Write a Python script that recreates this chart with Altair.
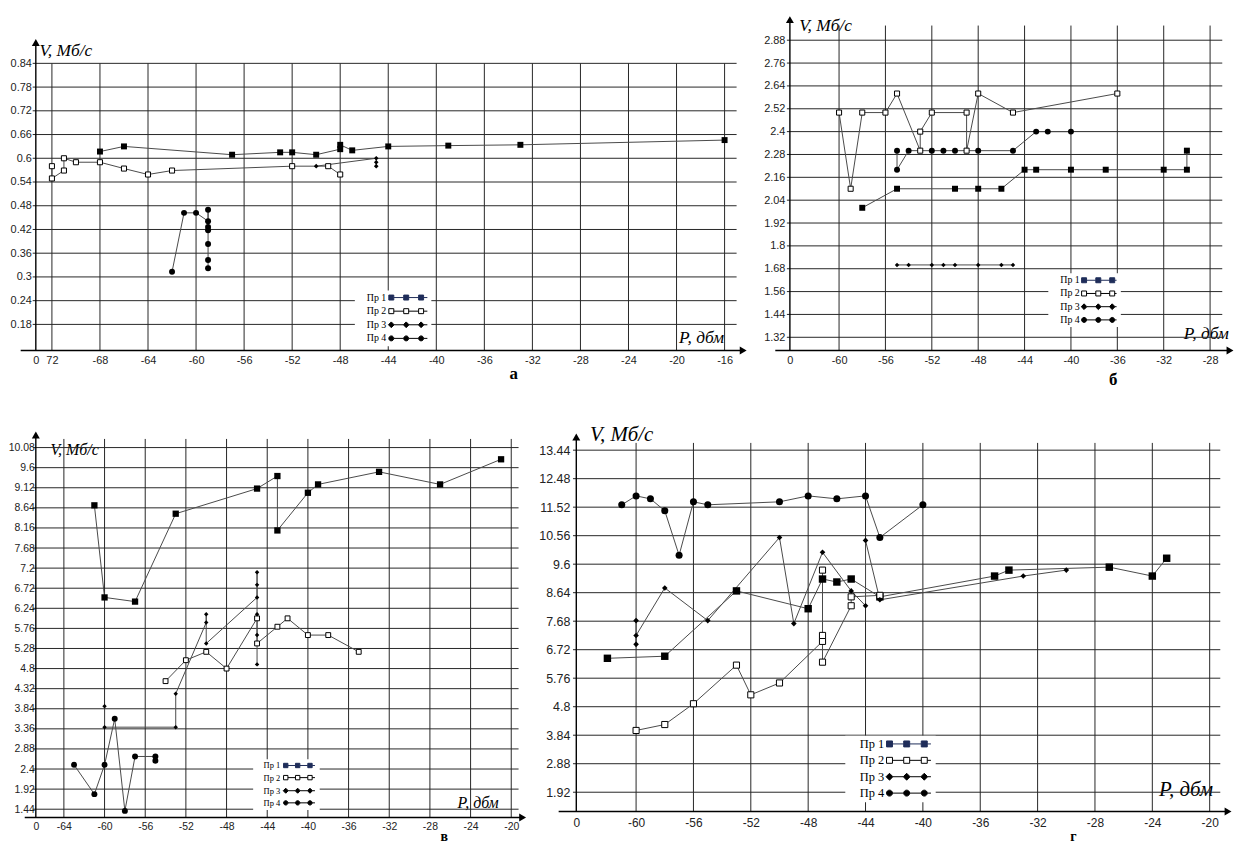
import altair as alt
import pandas as pd

SERIES = ["Пр 1", "Пр 2", "Пр 3", "Пр 4"]
X_TITLE = "P, дбм"
Y_TITLE = "V, Мб/с"

# ---------------- panel а ----------------
A_X_TICKS = [-72, -68, -64, -60, -56, -52, -48, -44, -40, -36, -32, -28, -24, -20, -16]
A_Y_TICKS = [0.18, 0.24, 0.3, 0.36, 0.42, 0.48, 0.54, 0.6, 0.66, 0.72, 0.78, 0.84]
A_P1_X = [-68, -66, -57, -53, -52, -50, -48, -48, -47, -44, -39, -33, -16]
A_P1_Y = [0.617, 0.630, 0.609, 0.615, 0.615, 0.609, 0.623, 0.634, 0.620, 0.630, 0.632, 0.634, 0.646]
A_P2_X = [-72, -72, -71, -71, -70, -68, -66, -64, -62, -52, -49, -48]
A_P2_Y = [0.580, 0.549, 0.569, 0.600, 0.590, 0.590, 0.574, 0.559, 0.569, 0.580, 0.580, 0.559]
A_P3_X = [-50, -45, -45, -45]
A_P3_Y = [0.580, 0.600, 0.590, 0.580]
A_P4_X = [-62, -61, -60, -59, -59, -59, -59, -59, -59, -59]
A_P4_Y = [0.313, 0.462, 0.462, 0.441, 0.470, 0.426, 0.418, 0.383, 0.343, 0.322]

# ---------------- panel б ----------------
B_X_TICKS = [-60, -56, -52, -48, -44, -40, -36, -32, -28]
B_Y_TICKS = [1.32, 1.44, 1.56, 1.68, 1.8, 1.92, 2.04, 2.16, 2.28, 2.4, 2.52, 2.64, 2.76, 2.88]
B_P1_X = [-58, -55, -50, -48, -46, -44, -43, -40, -37, -32, -30, -30]
B_P1_Y = [2.0, 2.1, 2.1, 2.1, 2.1, 2.2, 2.2, 2.2, 2.2, 2.2, 2.2, 2.3]
B_P2_X = [-60, -59, -58, -56, -55, -53, -53, -52, -49, -49, -48, -45, -36]
B_P2_Y = [2.5, 2.1, 2.5, 2.5, 2.6, 2.3, 2.4, 2.5, 2.5, 2.3, 2.6, 2.5, 2.6]
B_P3_X = [-55, -54, -52, -51, -50, -48, -46, -45]
B_P3_Y = [1.7, 1.7, 1.7, 1.7, 1.7, 1.7, 1.7, 1.7]
B_P4_X = [-55, -55, -54, -52, -51, -50, -48, -45, -43, -42, -40]
B_P4_Y = [2.3, 2.2, 2.3, 2.3, 2.3, 2.3, 2.3, 2.3, 2.4, 2.4, 2.4]

# ---------------- panel в ----------------
C_X_TICKS = [-64, -60, -56, -52, -48, -44, -40, -36, -32, -28, -24, -20]
C_Y_TICKS = [1.44, 1.92, 2.4, 2.88, 3.36, 3.84, 4.32, 4.8, 5.28, 5.76, 6.24, 6.72,
             7.2, 7.68, 8.16, 8.64, 9.12, 9.6, 10.08]
C_P1_X = [-61, -60, -57, -53, -45, -43, -43, -40, -39, -33, -27, -21]
C_P1_Y = [8.7, 6.5, 6.4, 8.5, 9.1, 9.4, 8.1, 9.0, 9.2, 9.5, 9.2, 9.8]
C_P2_X = [-54, -52, -50, -48, -45, -45, -43, -42, -40, -38, -35]
C_P2_Y = [4.5, 5.0, 5.2, 4.8, 6.0, 5.4, 5.8, 6.0, 5.6, 5.6, 5.2]
C_P3_X = [-60, -60, -53, -53, -50, -50, -50, -45, -45, -45, -45, -45, -45]
C_P3_Y = [3.9, 3.4, 3.4, 4.2, 5.9, 6.1, 5.4, 6.5, 7.1, 6.8, 6.1, 5.6, 4.9]
C_P4_X = [-63, -61, -60, -59, -58, -57, -55, -55]
C_P4_Y = [2.5, 1.8, 2.5, 3.6, 1.4, 2.7, 2.7, 2.6]

# ---------------- panel г ----------------
D_X_TICKS = [-60, -56, -52, -48, -44, -40, -36, -32, -28, -24, -20]
D_Y_TICKS = [1.92, 2.88, 3.84, 4.8, 5.76, 6.72, 7.68, 8.64, 9.6, 10.56, 11.52, 12.48, 13.44]
D_P1_X = [-62, -58, -53, -48, -47, -46, -45, -43, -35, -34, -27, -24, -23]
D_P1_Y = [6.43, 6.5, 8.7, 8.1, 9.1, 9.0, 9.1, 8.5, 9.2, 9.4, 9.5, 9.2, 9.8]
D_P2_X = [-60, -58, -56, -53, -52, -50, -47, -47, -47, -47, -45, -45, -43]
D_P2_Y = [4.0, 4.2, 4.9, 6.2, 5.2, 5.6, 7.0, 7.2, 9.4, 6.3, 8.2, 8.5, 8.55]
D_P3_X = [-60, -60, -60, -58, -55, -50, -49, -47, -45, -44, -44, -43, -33, -30]
D_P3_Y = [7.7, 6.9, 7.2, 8.8, 7.7, 10.5, 7.6, 10.0, 8.7, 8.2, 10.4, 8.4, 9.2, 9.4]
D_P4_X = [-61, -60, -59, -58, -57, -56, -55, -50, -48, -46, -44, -43, -40]
D_P4_Y = [11.6, 11.9, 11.8, 11.4, 9.9, 11.7, 11.6, 11.7, 11.9, 11.8, 11.9, 10.5, 11.6]

# ---------------- styles / layout ----------------
SANS = "Liberation Sans, Arial, sans-serif"
SERIF = "Liberation Serif, Times New Roman, serif"
GRID = "#262626"
LINE = "#4a4a4a"
LEG_FILL = ["#1f2d5a", "white", "black", "black"]
LEG_STROKE = ["#1f2d5a", "black", "black", "black"]
LEG_SIZE = 16          # legend symbol size -> path scale = sqrt(16)/2 = 2

LAYOUT = {
    "a": dict(w=712, h=337, xdom=(-73.34, -14.45), ydom=(0.114, 0.9605),
              xarrow=-14.45, xaxis_from=-74.6, tick=-73.6,
              vtop=0.84, hright=-15.0, yarrow=0.8928, first_label="72",
              letter=("а", -33.56, 0.0555), lfs=17, lbase="middle",
              xfs=11, xpad=4.5, yfs=11, ypad=4.5, tfs=17.5,
              xt=(647, -13.3), yt=(3.2, 35),
              sizes=(36, 26, 22, 36),
              leg=dict(x=321.1, y=276.7, fs=10, rp=3.7, offs=(24.7, 39.7, 54.7), end=61, half=2.5)),
    "b": dict(w=443, h=337, xdom=(-64.24, -26.28), ydom=(1.2506, 3.0088),
              xarrow=-26.28, xaxis_from=-65.5, tick=-64.5,
              vtop=2.957, hright=-26.95, yarrow=2.988, first_label=None,
              letter=("б", -36.35, 1.094), lfs=17, lbase="middle",
              xfs=11, xpad=4.5, yfs=11, ypad=5, tfs=17.5,
              xt=(396, -17), yt=(8.9, 10.3),
              sizes=(36, 26, 20, 36),
              leg=dict(x=260.1, y=259.3, fs=10, rp=3.3, offs=(24, 38.3, 52.3), end=56.7, half=2.5)),
    "c": dict(w=499, h=391, xdom=(-66.76, -18.0), ydom=(1.243, 10.524),
              xarrow=-18.88, xaxis_from=-67.85, tick=-67.06,
              vtop=10.286, hright=-19.28, yarrow=10.381, first_label=None,
              letter=("в", -26.6, 0.69), lfs=14, lbase="alphabetic",
              xfs=10.5, xpad=3.8, yfs=10.5, ypad=1.5, tfs=16,
              xt=(424, -15), yt=(14.2, 20.3),
              sizes=(40, 24, 20, 36),
              leg=dict(x=218.75, y=332.45, fs=8.5, rp=3.2, offs=(22.3, 34.3, 46.7), end=51.7, half=2.2)),
    "d": dict(w=656, h=385, xdom=(-64.17, -18.72), ydom=(1.271, 14.153),
              xarrow=-18.72, xaxis_from=-65.4, tick=-64.4,
              vtop=13.684, hright=-19.26, yarrow=13.885, first_label=None,
              letter=("г", -29.51, 0.29), lfs=14, lbase="alphabetic",
              xfs=12, xpad=6.5, yfs=12.5, ypad=6.5, tfs=21,
              xt=(586, -22.3), yt=(13.2, 5.3),
              sizes=(56, 38, 32, 50),
              leg=dict(x=270.75, y=308.75, fs=12.5, rp=3.5, offs=(30, 47.3, 65), end=71.7, half=3)),
}


def fmt(v):
    return f"{v:.3f}"


def legend_paths(offs, end, half, fs):
    # Vega: symbol centre at fs/2, label starts at fs (labelOffset 0)
    k = (LEG_SIZE ** 0.5) / 2.0
    D = fs / 2.0
    p = [(D + o) / k for o in offs]
    e = (D + end) / k
    h = half / k
    hd = half * 1.15 / k
    out = []
    for kind in ["square", "square", "diamond", "circle"]:
        hh = hd if kind == "diamond" else h
        parts = []
        for i in range(3):
            nxt = p[i + 1] - hh if i < 2 else e
            parts.append(f"M {fmt(p[i] + hh)},0 H {fmt(nxt)}")
        for c in p:
            if kind == "square":
                parts.append(f"M {fmt(c - h)},{fmt(-h)} H {fmt(c + h)} V {fmt(h)} H {fmt(c - h)} Z")
            elif kind == "diamond":
                parts.append(f"M {fmt(c)},{fmt(-hd)} L {fmt(c + hd)},0 L {fmt(c)},{fmt(hd)} L {fmt(c - hd)},0 Z")
            else:
                parts.append(f"M {fmt(c - h)},0 A {fmt(h)},{fmt(h)} 0 1,0 {fmt(c + h)},0 "
                             f"A {fmt(h)},{fmt(h)} 0 1,0 {fmt(c - h)},0 Z")
        out.append(" ".join(parts))
    return out


def build(series_xy, xticks, yticks, P):
    x0, x1 = P["xdom"]
    y0, y1 = P["ydom"]
    xs = alt.Scale(domain=[x0, x1], nice=False, zero=False)
    ys = alt.Scale(domain=[y0, y1], nice=False, zero=False)
    if P["first_label"]:
        lab = (f"datum.value < {x0 + 0.5} ? '0' : (datum.value == {xticks[0]} ? "
               f"'{P['first_label']}' : '-' + abs(datum.value))")
    else:
        lab = f"datum.value < {x0 + 0.5} ? '0' : '-' + abs(datum.value)"
    xax = alt.Axis(values=[x0] + xticks, labelExpr=lab, title=X_TITLE,
                   titleX=P["xt"][0], titleY=P["xt"][1], titleAlign="left",
                   titleBaseline="middle", titleAngle=0, titleFont=SERIF,
                   titleFontStyle="italic", titleFontWeight="normal",
                   titleFontSize=P["tfs"], titleColor="black",
                   grid=False, ticks=False, domain=False, labelFont=SANS,
                   labelFontSize=P["xfs"], labelColor="#222",
                   labelPadding=P["xpad"], labelOverlap=False, labelFlush=False)
    yax = alt.Axis(values=yticks, labelExpr="'' + datum.value", title=Y_TITLE,
                   titleX=P["yt"][0], titleY=P["yt"][1], titleAlign="left",
                   titleBaseline="middle", titleAngle=0, titleFont=SERIF,
                   titleFontStyle="italic", titleFontWeight="normal",
                   titleFontSize=P["tfs"], titleColor="black",
                   grid=False, ticks=False, domain=False, labelFont=SANS,
                   labelFontSize=P["yfs"], labelColor="#222",
                   labelPadding=P["ypad"], labelOverlap=False, labelFlush=False)

    def X(f):
        return alt.X(f, type="quantitative", scale=xs, axis=xax)

    def Y(f):
        return alt.Y(f, type="quantitative", scale=ys, axis=yax)

    rows = []
    for name, (sx, sy) in zip(SERIES, series_xy):
        for i, (a, b) in enumerate(zip(sx, sy)):
            rows.append({"series": name, "i": i, "x": a, "y": b})
    df = pd.DataFrame(rows)

    vg = pd.DataFrame({"gx": xticks, "gy0": [y0] * len(xticks), "gy1": [P["vtop"]] * len(xticks)})
    hg = pd.DataFrame({"hy": yticks, "hx0": [P["tick"]] * len(yticks), "hx1": [P["hright"]] * len(yticks)})
    vgrid = alt.Chart(vg).mark_rule(color=GRID, strokeWidth=1).encode(
        x=X("gx"), y=Y("gy0"), y2="gy1")
    hgrid = alt.Chart(hg).mark_rule(color=GRID, strokeWidth=1).encode(
        y=Y("hy"), x=X("hx0"), x2="hx1")
    yline = alt.Chart(pd.DataFrame({"ax": [x0], "a0": [y0], "a1": [P["yarrow"]]})).mark_rule(
        color="black", strokeWidth=1.4).encode(x=X("ax"), y=Y("a0"), y2="a1")
    xline = alt.Chart(pd.DataFrame({"b0": [P["xaxis_from"]], "b1": [P["xarrow"]], "by": [y0]})).mark_rule(
        color="black", strokeWidth=1.4).encode(x=X("b0"), x2="b1", y=Y("by"))
    arr_up = alt.Chart(pd.DataFrame({"ax": [x0], "ay": [P["yarrow"]]})).mark_point(
        shape="triangle-up", filled=True, color="black", size=64, opacity=1).encode(
        x=X("ax"), y=Y("ay"))
    arr_rt = alt.Chart(pd.DataFrame({"ax": [P["xarrow"]], "ay": [y0]})).mark_point(
        shape="triangle-right", filled=True, color="black", size=64, opacity=1).encode(
        x=X("ax"), y=Y("ay"))

    lines = alt.Chart(df).mark_line(color=LINE, strokeWidth=1).encode(
        x=X("x"), y=Y("y"), detail="series:N", order="i:Q")

    s = P["sizes"]
    pts = [
        alt.Chart(df).transform_filter(alt.datum.series == SERIES[0]).mark_point(
            shape="square", filled=True, color="black", size=s[0], opacity=1, strokeWidth=0),
        alt.Chart(df).transform_filter(alt.datum.series == SERIES[1]).mark_point(
            shape="square", filled=True, fill="white", stroke="black", strokeWidth=1,
            size=s[1], opacity=1),
        alt.Chart(df).transform_filter(alt.datum.series == SERIES[2]).mark_point(
            shape="diamond", filled=True, color="black", size=s[2], opacity=1, strokeWidth=0),
        alt.Chart(df).transform_filter(alt.datum.series == SERIES[3]).mark_point(
            shape="circle", filled=True, color="black", size=s[3], opacity=1, strokeWidth=0),
    ]
    pts = [p.encode(x=X("x"), y=Y("y")) for p in pts]

    L = P["leg"]
    leg = alt.Legend(orient="none", legendX=L["x"], legendY=L["y"], title=None,
                     labelFont=SERIF, labelFontSize=L["fs"], labelColor="black",
                     symbolSize=LEG_SIZE, symbolStrokeWidth=1, rowPadding=L["rp"],
                     padding=2, fillColor="white", labelOffset=0, labelLimit=300,
                     direction="vertical")
    leg_df = pd.DataFrame({"series": pd.Series([], dtype="object")})
    paths = legend_paths(L["offs"], L["end"], L["half"], L["fs"])
    legend_layer = alt.Chart(leg_df).mark_point(filled=True, size=LEG_SIZE, opacity=1).encode(
        shape=alt.Shape("series:N", scale=alt.Scale(domain=SERIES, range=paths), legend=leg),
        fill=alt.Fill("series:N", scale=alt.Scale(domain=SERIES, range=LEG_FILL), legend=leg),
        stroke=alt.Stroke("series:N", scale=alt.Scale(domain=SERIES, range=LEG_STROKE), legend=leg),
    )

    t, lx, ly = P["letter"]
    letter = alt.Chart(pd.DataFrame({"lx": [lx], "ly": [ly], "t": [t]})).mark_text(
        font=SERIF, fontWeight="bold", fontSize=P["lfs"], color="black",
        align="center", baseline=P["lbase"]).encode(x=X("lx"), y=Y("ly"), text="t:N")

    return alt.layer(vgrid, hgrid, yline, xline, lines, *pts, legend_layer, arr_up, arr_rt,
                     letter).properties(width=P["w"], height=P["h"])


pa = build([(A_P1_X, A_P1_Y), (A_P2_X, A_P2_Y), (A_P3_X, A_P3_Y), (A_P4_X, A_P4_Y)],
           A_X_TICKS, A_Y_TICKS, LAYOUT["a"])
pb = build([(B_P1_X, B_P1_Y), (B_P2_X, B_P2_Y), (B_P3_X, B_P3_Y), (B_P4_X, B_P4_Y)],
           B_X_TICKS, B_Y_TICKS, LAYOUT["b"])
pc = build([(C_P1_X, C_P1_Y), (C_P2_X, C_P2_Y), (C_P3_X, C_P3_Y), (C_P4_X, C_P4_Y)],
           C_X_TICKS, C_Y_TICKS, LAYOUT["c"])
pd_ = build([(D_P1_X, D_P1_Y), (D_P2_X, D_P2_Y), (D_P3_X, D_P3_Y), (D_P4_X, D_P4_Y)],
            D_X_TICKS, D_Y_TICKS, LAYOUT["d"])

IND = dict(shape="independent", fill="independent", stroke="independent")
row1 = alt.hconcat(pa, pb, spacing=47, bounds="flush").resolve_scale(**IND)
row2 = alt.hconcat(pc, pd_, spacing=45, bounds="flush").resolve_scale(**IND)
chart = alt.vconcat(row1, row2, spacing=34).resolve_scale(**IND).properties(
    padding={"left": 0, "top": 5, "right": 0, "bottom": 0}
).configure(background="white").configure_view(stroke=None)

chart.save("out.html", embed_options={"renderer": "svg", "actions": False})
